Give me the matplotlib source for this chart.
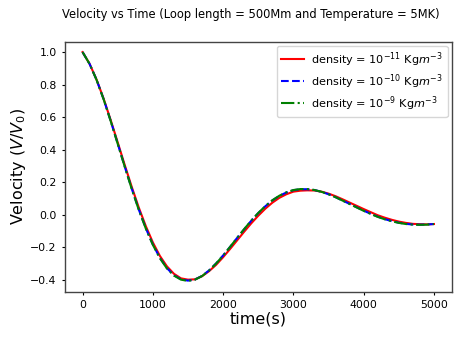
import matplotlib.pyplot as plt
import numpy as np

# time axis, one sample every 100 s
time = np.arange(0, 5001, 100)

# V/V0 for the three densities
vel_1e11 = [1.000, 0.928, 0.830, 0.713, 0.582, 0.445, 0.306, 0.171, 0.044, -0.070, -0.170, -0.253, -0.317,
            -0.363, -0.391, -0.399, -0.397, -0.378, -0.347, -0.308, -0.261, -0.210, -0.157, -0.104, -0.053, -0.006,
            0.037, 0.074, 0.104, 0.126, 0.142, 0.148, 0.150, 0.149, 0.142, 0.130, 0.114, 0.095, 0.075,
            0.055, 0.035, 0.016, -0.003, -0.018, -0.031, -0.042, -0.050, -0.056, -0.058, -0.059, -0.057]
vel_1e10 = [1.000, 0.927, 0.829, 0.710, 0.577, 0.437, 0.296, 0.160, 0.032, -0.083, -0.183, -0.265, -0.328,
            -0.372, -0.397, -0.405, -0.398, -0.376, -0.342, -0.299, -0.250, -0.197, -0.142, -0.089, -0.037, 0.010,
            0.052, 0.088, 0.116, 0.137, 0.151, 0.157, 0.157, 0.152, 0.141, 0.126, 0.108, 0.087, 0.067,
            0.046, 0.025, 0.006, -0.012, -0.027, -0.039, -0.049, -0.056, -0.060, -0.061, -0.060, -0.057]
vel_1e9 = [1.000, 0.927, 0.828, 0.709, 0.576, 0.436, 0.295, 0.158, 0.030, -0.085, -0.185, -0.267, -0.330,
           -0.374, -0.399, -0.407, -0.399, -0.377, -0.343, -0.300, -0.251, -0.197, -0.142, -0.088, -0.036, 0.011,
           0.053, 0.089, 0.117, 0.138, 0.152, 0.158, 0.158, 0.152, 0.141, 0.126, 0.108, 0.087, 0.066,
           0.045, 0.024, 0.005, -0.013, -0.028, -0.040, -0.050, -0.057, -0.061, -0.062, -0.061, -0.057]

labels = [r'density = $10^{-11}$ Kg$m^{-3}$',
          r'density = $10^{-10}$ Kg$m^{-3}$',
          r'density = $10^{-9}$ Kg$m^{-3}$']

fig = plt.figure(figsize=(4.62, 3.40), dpi=100)
ax = fig.add_axes([0.1407, 0.1421, 0.8366, 0.7353])

ax.plot(time, vel_1e11, 'r-', lw=1.5, label=labels[0])
ax.plot(time, vel_1e10, 'b--', lw=1.5, label=labels[1])
ax.plot(time, vel_1e9, 'g-.', lw=1.5, label=labels[2])

ax.set_xlim(-250, 5250)
ax.set_ylim(-0.473, 1.064)
ax.set_xticks([0, 1000, 2000, 3000, 4000, 5000])
ax.set_yticks([-0.4, -0.2, 0.0, 0.2, 0.4, 0.6, 0.8, 1.0])
ax.tick_params(labelsize=7.8, length=2.5, width=0.8)
for s in ax.spines.values():
    s.set_color('#444444')
    s.set_linewidth(1.0)

ax.set_xlabel('time(s)', fontsize=11.5, labelpad=1)
ax.set_ylabel(r'Velocity $(V/V_0)$', fontsize=11.5, labelpad=2)
ax.legend(loc='upper right', fontsize=8.1, handlelength=2.0, handletextpad=0.7,
          borderpad=0.4, labelspacing=0.3, borderaxespad=0.35)

fig.text(0.543, 0.958, 'Velocity vs Time (Loop length = 500Mm and Temperature = 5MK)',
         ha='center', va='center', fontsize=8.3)

fig.savefig('out.png', dpi=100)
